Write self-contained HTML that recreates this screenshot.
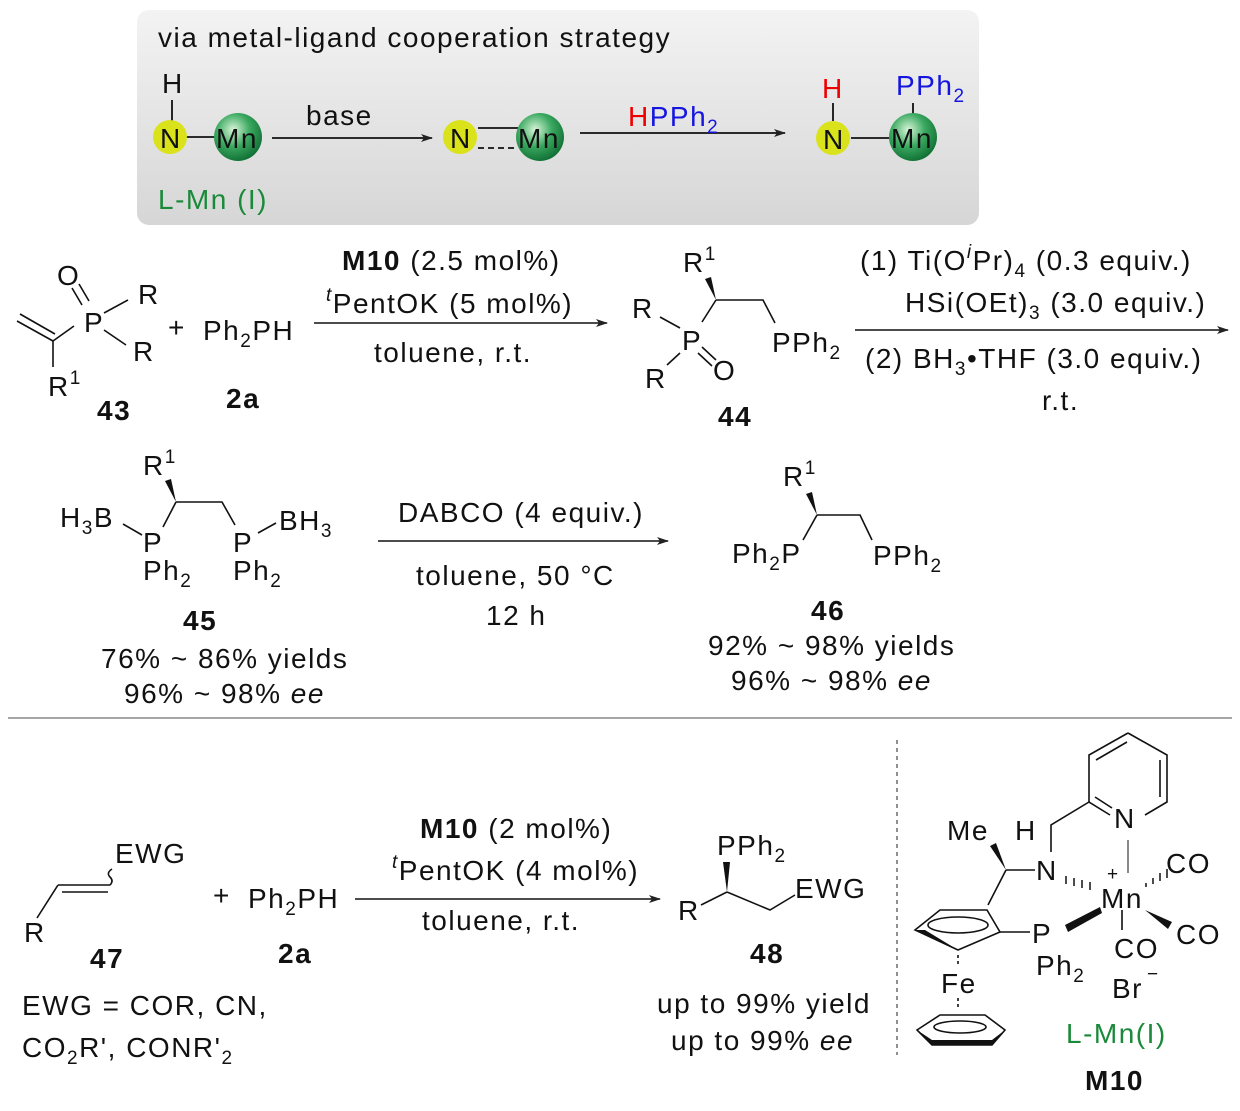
<!DOCTYPE html>
<html><head><meta charset="utf-8"><style>
html,body{margin:0;padding:0;background:#fff;}
svg{display:block;}
text{font-family:"Liberation Sans",Arial,sans-serif;font-size:28px;fill:#111;letter-spacing:1.5px;}
.b{font-weight:bold;}
.s{font-size:19px;}
</style></head><body>
<svg width="1240" height="1111" viewBox="0 0 1240 1111" xmlns="http://www.w3.org/2000/svg">
<defs>
<linearGradient id="bg" x1="0" y1="0" x2="0" y2="1"><stop offset="0" stop-color="#f3f3f3"/><stop offset="1" stop-color="#d6d6d6"/></linearGradient>
<radialGradient id="gr" cx="0.4" cy="0.35" r="0.7"><stop offset="0" stop-color="#d8f5d8"/><stop offset="0.5" stop-color="#3aa860"/><stop offset="1" stop-color="#0d6b30"/></radialGradient>
<marker id="ah" markerWidth="12" markerHeight="8" refX="11" refY="4" orient="auto" markerUnits="userSpaceOnUse"><path d="M0,0 L12,4 L0,8 L3,4z" fill="#222"/></marker>
</defs>
<rect x="137" y="10" width="842" height="215" rx="12" fill="url(#bg)"/>
<text x="158" y="47">via metal-ligand cooperation strategy</text>
<g stroke="#111" stroke-width="1.8">
<line x1="172" y1="100" x2="172" y2="122"/>
<line x1="186" y1="137" x2="216" y2="137"/>
<line x1="478" y1="128" x2="518" y2="128"/>
<line x1="478" y1="148" x2="518" y2="148" stroke-dasharray="6,4"/>
<line x1="851" y1="138" x2="890" y2="138"/>
<line x1="833" y1="103" x2="833" y2="121"/>
<line x1="913" y1="103" x2="913" y2="114"/>
<line x1="272" y1="138" x2="432" y2="138" marker-end="url(#ah)"/>
<line x1="580" y1="133" x2="785" y2="133" marker-end="url(#ah)"/>
</g>
<circle cx="170" cy="137" r="17" fill="#d9e21a"/>
<circle cx="238" cy="137" r="24" fill="url(#gr)"/>
<circle cx="460" cy="137" r="17" fill="#d9e21a"/>
<circle cx="540" cy="137" r="24" fill="url(#gr)"/>
<circle cx="833" cy="138" r="17" fill="#d9e21a"/>
<circle cx="913" cy="137" r="24" fill="url(#gr)"/>
<text x="162" y="93">H</text>
<text x="160" y="148">N</text>
<text x="216" y="148">Mn</text>
<text x="450" y="148">N</text>
<text x="518" y="148">Mn</text>
<text x="823" y="149">N</text>
<text x="891" y="148">Mn</text>
<text x="822" y="98" style="fill:#e00">H</text>
<text x="896" y="95" style="fill:#1515e0">PPh<tspan class="s" dy="7">2</tspan></text>
<text x="306" y="125">base</text>
<text x="628" y="126"><tspan style="fill:#e00">H</tspan><tspan style="fill:#1515e0">PPh</tspan><tspan class="s" dy="7" style="fill:#1515e0">2</tspan></text>
<text x="158" y="209" style="fill:#1a8a3a">L-Mn (I)</text>

<g stroke="#111" stroke-width="1.6" fill="none">
<line x1="17" y1="321" x2="53" y2="341"/><line x1="20" y1="314" x2="55" y2="334"/>
<line x1="53" y1="341" x2="74" y2="326"/>
<line x1="53" y1="341" x2="53" y2="367"/>
<line x1="72" y1="288" x2="82" y2="305"/><line x1="79" y1="284" x2="89" y2="301"/>
<line x1="104" y1="313" x2="128" y2="300"/>
<line x1="104" y1="330" x2="126" y2="345"/>
<line x1="314" y1="323" x2="607" y2="323" marker-end="url(#ah)"/>
<path d="M716 300 L763 300 L775 323"/>
<line x1="716" y1="300" x2="702" y2="322"/>
<line x1="660" y1="317" x2="680" y2="328"/>
<line x1="680" y1="353" x2="667" y2="365"/>
<line x1="702" y1="347" x2="716" y2="360"/><line x1="698" y1="353" x2="712" y2="366"/>
<line x1="855" y1="330" x2="1228" y2="330" marker-end="url(#ah)"/>
</g>
<path d="M716 300 L705 279 L711 277z" fill="#111"/>
<text x="57" y="285">O</text>
<text x="84" y="332">P</text>
<text x="138" y="304">R</text>
<text x="133" y="361">R</text>
<text x="48" y="396">R<tspan class="s" dy="-12">1</tspan></text>
<text x="97" y="420" class="b">43</text>
<text x="168" y="337">+</text>
<text x="203" y="340">Ph<tspan class="s" dy="7">2</tspan><tspan dy="-7">PH</tspan></text>
<text x="226" y="408" class="b">2a</text>
<text x="342" y="270"><tspan class="b">M10</tspan> (2.5 mol%)</text>
<text x="326" y="313"><tspan class="s" dy="-12" font-style="italic">t</tspan><tspan dy="12">PentOK (5 mol%)</tspan></text>
<text x="374" y="362">toluene, r.t.</text>
<text x="683" y="272">R<tspan class="s" dy="-12">1</tspan></text>
<text x="632" y="318">R</text>
<text x="682" y="350">P</text>
<text x="645" y="388">R</text>
<text x="713" y="380">O</text>
<text x="772" y="352">PPh<tspan class="s" dy="7">2</tspan></text>
<text x="718" y="426" class="b">44</text>
<text x="860" y="270">(1) Ti(O<tspan class="s" dy="-12" font-style="italic">i</tspan><tspan dy="12">Pr)</tspan><tspan class="s" dy="7">4</tspan><tspan dy="-7"> (0.3 equiv.)</tspan></text>
<text x="905" y="312">HSi(OEt)<tspan class="s" dy="7">3</tspan><tspan dy="-7"> (3.0 equiv.)</tspan></text>
<text x="865" y="368">(2) BH<tspan class="s" dy="7">3</tspan><tspan dy="-7">•THF (3.0 equiv.)</tspan></text>
<text x="1042" y="410">r.t.</text>

<g stroke="#111" stroke-width="1.6" fill="none">
<path d="M176 502 L163 527"/>
<path d="M176 502 L222 502 L235 525"/>
<line x1="123" y1="524" x2="142" y2="535"/>
<line x1="258" y1="533" x2="276" y2="523"/>
<line x1="378" y1="541" x2="668" y2="541" marker-end="url(#ah)"/>
<path d="M817 515 L860 515 L872 540"/>
<line x1="817" y1="515" x2="803" y2="540"/>
</g>
<path d="M176 502 L165 481 L171 479z" fill="#111"/>
<path d="M817 515 L806 494 L812 492z" fill="#111"/>
<text x="143" y="475">R<tspan class="s" dy="-12">1</tspan></text>
<text x="60" y="527">H<tspan class="s" dy="7">3</tspan><tspan dy="-7">B</tspan></text>
<text x="143" y="552">P</text>
<text x="143" y="580">Ph<tspan class="s" dy="7">2</tspan></text>
<text x="233" y="552">P</text>
<text x="233" y="580">Ph<tspan class="s" dy="7">2</tspan></text>
<text x="279" y="530">BH<tspan class="s" dy="7">3</tspan></text>
<text x="183" y="630" class="b">45</text>
<text x="101" y="668">76% ~ 86% yields</text>
<text x="124" y="703">96% ~ 98% <tspan font-style="italic">ee</tspan></text>
<text x="398" y="522">DABCO (4 equiv.)</text>
<text x="416" y="585">toluene, 50 °C</text>
<text x="486" y="625">12 h</text>
<text x="783" y="486">R<tspan class="s" dy="-12">1</tspan></text>
<text x="732" y="563">Ph<tspan class="s" dy="7">2</tspan><tspan dy="-7">P</tspan></text>
<text x="873" y="565">PPh<tspan class="s" dy="7">2</tspan></text>
<text x="811" y="620" class="b">46</text>
<text x="708" y="655">92% ~ 98% yields</text>
<text x="731" y="690">96% ~ 98% <tspan font-style="italic">ee</tspan></text>

<line x1="8" y1="718" x2="1232" y2="718" stroke="#888" stroke-width="1.5"/>
<line x1="897" y1="740" x2="897" y2="1055" stroke="#555" stroke-width="1.3" stroke-dasharray="4,4"/>

<g stroke="#111" stroke-width="1.6" fill="none">
<line x1="37" y1="918" x2="58" y2="885"/>
<line x1="58" y1="885" x2="110" y2="885"/><line x1="62" y1="892" x2="108" y2="892"/>
<path d="M110 885 q4 -4 0 -8 q-4 -4 2 -8"/>
<line x1="355" y1="899" x2="660" y2="899" marker-end="url(#ah)"/>
<line x1="727" y1="892" x2="701" y2="905"/>
<path d="M727 892 L770 910 L795 895"/>
</g>
<path d="M727 892 L723 862 L730 862z" fill="#111"/>
<text x="115" y="863">EWG</text>
<text x="24" y="942">R</text>
<text x="90" y="968" class="b">47</text>
<text x="22" y="1015">EWG = COR, CN,</text>
<text x="22" y="1057">CO<tspan class="s" dy="7">2</tspan><tspan dy="-7">R', CONR'</tspan><tspan class="s" dy="7">2</tspan></text>
<text x="213" y="905">+</text>
<text x="248" y="908">Ph<tspan class="s" dy="7">2</tspan><tspan dy="-7">PH</tspan></text>
<text x="278" y="963" class="b">2a</text>
<text x="420" y="838"><tspan class="b">M10</tspan> (2 mol%)</text>
<text x="392" y="880"><tspan class="s" dy="-12" font-style="italic">t</tspan><tspan dy="12">PentOK (4 mol%)</tspan></text>
<text x="422" y="930">toluene, r.t.</text>
<text x="717" y="855">PPh<tspan class="s" dy="7">2</tspan></text>
<text x="678" y="920">R</text>
<text x="795" y="898">EWG</text>
<text x="750" y="963" class="b">48</text>
<text x="657" y="1013">up to 99% yield</text>
<text x="671" y="1050">up to 99% <tspan font-style="italic">ee</tspan></text>

<g stroke="#111" stroke-width="1.6" fill="none">
<path d="M1128 733 L1167 755 L1167 802 L1145 815"/>
<path d="M1110 815 L1089 802 L1089 755 L1128 733"/>
<line x1="1160" y1="760" x2="1160" y2="797"/>
<line x1="1096" y1="760" x2="1127" y2="742"/>
<line x1="1095" y1="797" x2="1112" y2="808"/>
<path d="M1089 802 L1051 825 L1051 852"/>
<line x1="1128" y1="840" x2="1128" y2="873" stroke-width="1"/>
<line x1="1006" y1="870" x2="1035" y2="870"/>
<line x1="1006" y1="870" x2="988" y2="905"/>
<line x1="1122" y1="910" x2="1122" y2="930"/>
<path d="M915 930 L940 910 L987 910 L1000 932 L958 950z"/>
<ellipse cx="958" cy="925" rx="30" ry="8"/>
<line x1="1000" y1="932" x2="1030" y2="932"/>
<line x1="958" y1="955" x2="958" y2="965" stroke-dasharray="3,3"/>
<line x1="958" y1="998" x2="958" y2="1010" stroke-dasharray="3,3"/>
<path d="M917 1030 L940 1015 L985 1015 L1005 1030 L992 1045 L932 1045z"/>
<ellipse cx="960" cy="1027" rx="26" ry="6"/>
</g>
<path d="M1006 870 L990 846 L996 843z" fill="#111"/>
<path d="M1065 925 L1100 907 L1102 913 L1068 932z" fill="#111"/>
<path d="M1145 910 L1172 922 L1168 929z" fill="#111"/>
<path d="M958 950 L915 930 L925 930z" fill="#111"/>
<path d="M932 1045 L917 1030 L932 1040 L992 1040 L1005 1030 L992 1045z" fill="#111"/>
<g stroke="#111" stroke-width="1.5">
<line x1="1066" y1="876" x2="1066" y2="884"/><line x1="1074" y1="878" x2="1074" y2="886"/><line x1="1082" y1="880" x2="1082" y2="888"/><line x1="1090" y1="882" x2="1090" y2="890"/>
<line x1="1146" y1="887" x2="1146" y2="883"/><line x1="1153" y1="884" x2="1153" y2="878"/><line x1="1160" y1="881" x2="1160" y2="873"/><line x1="1167" y1="878" x2="1167" y2="869"/>
</g>
<text x="1114" y="828">N</text>
<text x="947" y="840">Me</text>
<text x="1015" y="840">H</text>
<text x="1036" y="880">N</text>
<text x="1107" y="880" class="s">+</text>
<text x="1101" y="908">Mn</text>
<text x="1166" y="873">CO</text>
<text x="1176" y="944">CO</text>
<text x="1114" y="958">CO</text>
<text x="1112" y="998">Br</text>
<text x="1147" y="980" class="s">−</text>
<text x="1032" y="943">P</text>
<text x="1036" y="975">Ph<tspan class="s" dy="7">2</tspan></text>
<text x="941" y="993">Fe</text>
<text x="1066" y="1043" style="fill:#1a8a3a">L-Mn(I)</text>
<text x="1085" y="1090" class="b">M10</text>
</svg>
</body></html>
